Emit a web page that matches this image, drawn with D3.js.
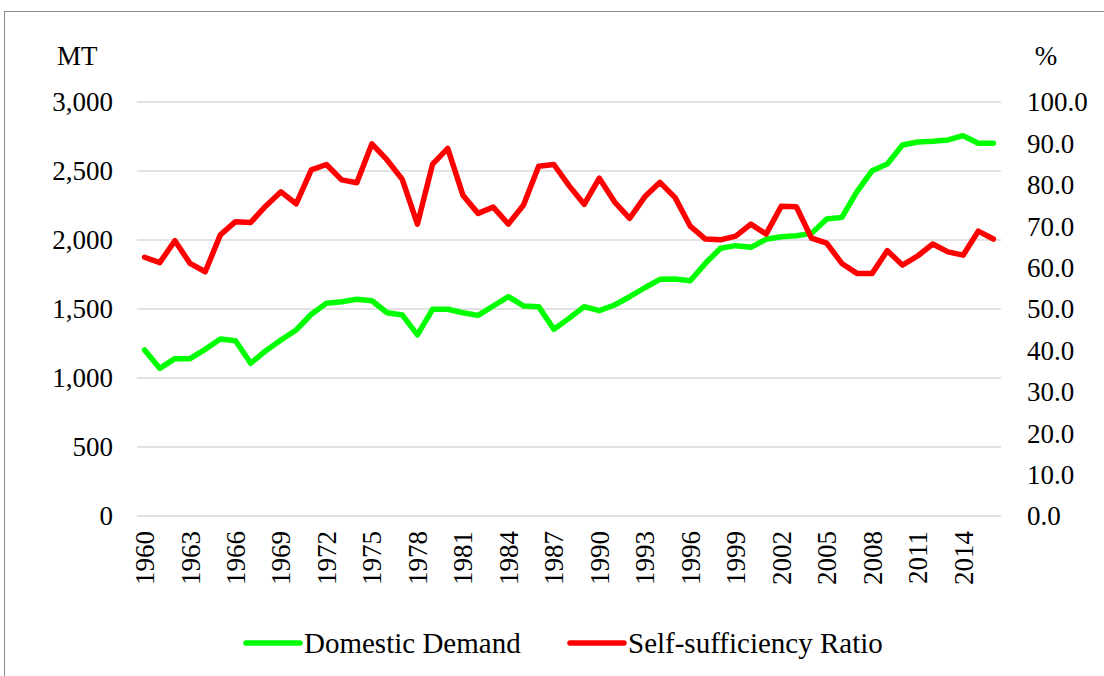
<!DOCTYPE html>
<html>
<head>
<meta charset="utf-8">
<script src="https://cdn.jsdelivr.net/npm/d3@7"></script>
<style>
  body { margin: 0; background: #fff; }
  text { font-family: "Liberation Serif", "Times New Roman", serif; fill: #000; }
</style>
</head>
<body>
<svg id="chart" width="1104" height="676"></svg>
<script>
// years on the category axis
const years = d3.range(1960, 2017);

// Domestic Demand, MT (left axis)
const demand = [1203, 1070, 1140, 1140, 1208, 1283, 1270, 1107, 1198, 1275,
    1348, 1462, 1541, 1553, 1570, 1560, 1473, 1457, 1312, 1498,
    1498, 1473, 1454, 1522, 1589, 1522, 1517, 1353, 1432, 1517,
    1488, 1529, 1589, 1654, 1715, 1717, 1705, 1831, 1940, 1959,
    1947, 2005, 2024, 2031, 2048, 2152, 2164, 2350, 2502, 2551,
    2688, 2710, 2715, 2725, 2756, 2701, 2701];

// Self-sufficiency Ratio, % (right axis)
const ratio = [62.5, 61.2, 66.5, 61.0, 59.0, 67.9, 71.1, 70.9, 74.9, 78.3,
    75.4, 83.6, 84.9, 81.2, 80.5, 89.9, 86.0, 81.3, 70.5, 85.0,
    88.8, 77.5, 73.1, 74.6, 70.5, 75.1, 84.5, 84.9, 79.8, 75.3,
    81.6, 75.9, 71.9, 77.1, 80.6, 76.9, 70.0, 66.9, 66.7, 67.6,
    70.5, 68.1, 74.8, 74.7, 67.1, 65.9, 61.0, 58.6, 58.6, 64.1,
    60.6, 62.8, 65.7, 63.8, 63.0, 68.8, 66.9];

const leftTicks = [0, 500, 1000, 1500, 2000, 2500, 3000];
const rightTicks = [0, 10, 20, 30, 40, 50, 60, 70, 80, 90, 100];
const yearLabels = d3.range(1960, 2017, 3);

const svg = d3.select("#chart");
const margin = { top: 102, right: 103, bottom: 160, left: 137 },
    width = 1104 - margin.left - margin.right,
    height = 676 - margin.top - margin.bottom;

// outer chart border (only top and left visible)
svg.append("rect")
    .attr("x", 4.5).attr("y", 11.5)
    .attr("width", 1200).attr("height", 700)
    .attr("fill", "none")
    .attr("stroke", "#8c8c8c")
    .attr("stroke-width", 1);

const x = d3.scalePoint().domain(years).range([0, width]).padding(0.5);
const yL = d3.scaleLinear().domain([0, 3000]).range([height, 0]);
const yR = d3.scaleLinear().domain([0, 100]).range([height, 0]);

const g = svg.append("g")
    .attr("transform", "translate(" + margin.left + "," + margin.top + ")");

// gridlines
g.selectAll(".grid")
    .data(leftTicks)
    .enter().append("line")
    .attr("x1", 0).attr("x2", width)
    .attr("y1", d => yL(d)).attr("y2", d => yL(d))
    .attr("stroke", "#d9d9d9")
    .attr("stroke-width", 1.5);

// left axis labels
const fmt = d3.format(",");
g.selectAll(".ltick")
    .data(leftTicks)
    .enter().append("text")
    .attr("x", -24)
    .attr("y", d => yL(d))
    .attr("dy", "0.35em")
    .attr("text-anchor", "end")
    .style("font-size", "27px")
    .text(d => fmt(d));

// right axis labels
g.selectAll(".rtick")
    .data(rightTicks)
    .enter().append("text")
    .attr("x", width + 26)
    .attr("y", d => yR(d))
    .attr("dy", "0.35em")
    .attr("text-anchor", "start")
    .style("font-size", "27px")
    .text(d => d.toFixed(1));

// year labels, rotated
g.selectAll(".xtick")
    .data(yearLabels)
    .enter().append("text")
    .attr("transform", d => "translate(" + x(d) + "," + (height + 15) + ") rotate(-90)")
    .attr("dy", "0.35em")
    .attr("text-anchor", "end")
    .style("font-size", "27px")
    .text(d => d);

// axis titles
svg.append("text").attr("x", 57).attr("y", 56).attr("dy", "0.35em")
    .style("font-size", "27px").text("MT");
svg.append("text").attr("x", 1046).attr("y", 56).attr("dy", "0.35em")
    .attr("text-anchor", "middle")
    .style("font-size", "27px").text("%");

// lines
const lineL = d3.line().x((d, i) => x(years[i])).y(d => yL(d));
const lineR = d3.line().x((d, i) => x(years[i])).y(d => yR(d));

g.append("path")
    .attr("d", lineL(demand))
    .attr("fill", "none")
    .attr("stroke", "#00ff00")
    .attr("stroke-width", 5.5)
    .attr("stroke-linejoin", "round")
    .attr("stroke-linecap", "round");

g.append("path")
    .attr("d", lineR(ratio))
    .attr("fill", "none")
    .attr("stroke", "#ff0000")
    .attr("stroke-width", 5.5)
    .attr("stroke-linejoin", "round")
    .attr("stroke-linecap", "round");

// legend
const legend = [
    { name: "Domestic Demand", color: "#00ff00", x: 246 },
    { name: "Self-sufficiency Ratio", color: "#ff0000", x: 570 }
];
const lg = svg.selectAll(".legend")
    .data(legend)
    .enter().append("g")
    .attr("transform", d => "translate(" + d.x + ",643)");
lg.append("line")
    .attr("x1", 0).attr("x2", 54)
    .attr("stroke", d => d.color)
    .attr("stroke-width", 5.5)
    .attr("stroke-linecap", "round");
lg.append("text")
    .attr("x", 58)
    .attr("dy", "0.35em")
    .style("font-size", "29px")
    .text(d => d.name);
</script>
</body>
</html>
